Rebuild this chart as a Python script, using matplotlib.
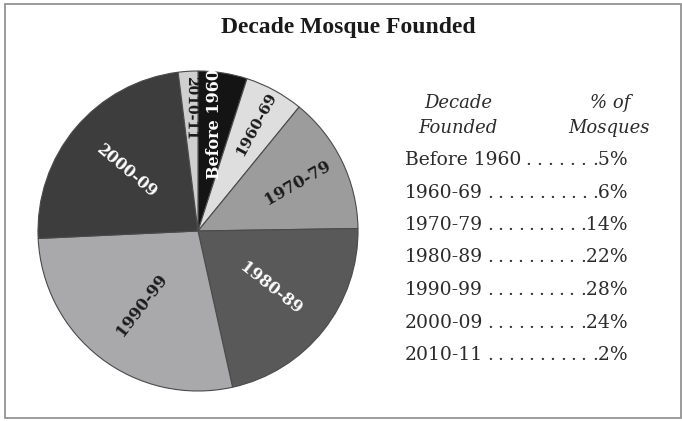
import matplotlib.pyplot as plt
from matplotlib.patches import Rectangle
import numpy as np

# Datos del grafico
decades = ['Before 1960', '1960-69', '1970-79', '1980-89', '1990-99', '2000-09', '2010-11']
percent = [5, 6, 14, 22, 28, 24, 2]
wedge_colors = ['#141414', '#dedede', '#9c9c9c', '#595959', '#a9a9ab', '#3d3d3d', '#cfcfcf']
label_colors = ['white', '#1a1a1a', '#1a1a1a', 'white', '#1a1a1a', 'white', '#1a1a1a']
label_radius = [0.68, 0.76, 0.69, 0.58, 0.58, 0.58, 0.77]
label_rot_adj = [9, 0, 4, 0, 0, 0, -4]
label_size = [11.5, 11, 11.5, 11.5, 11.5, 11.5, 10]

W, H = 682, 421
fig = plt.figure(figsize=(W / 100, H / 100), dpi=100)

# marco gris alrededor de la figura
fig.patches.append(Rectangle((5 / W, 3 / H), 676 / W, 414 / H, transform=fig.transFigure,
                             fill=False, edgecolor='#8a8a8a', linewidth=1.2))

fig.text(348 / W, 1 - 28 / H, 'Decade Mosque Founded', ha='center', va='center',
         fontsize=17, fontweight='bold', family='Liberation Serif', color='#1a1a1a')

# Pastel
cx, cy, r = 198, 231, 160
ax = fig.add_axes([(cx - r) / W, (H - cy - r) / H, 2 * r / W, 2 * r / H])
wedges, _ = ax.pie(percent, colors=wedge_colors, startangle=90, counterclock=False,
                   wedgeprops=dict(edgecolor='#4a4a4a', linewidth=0.8), radius=1.0)
ax.set_xlim(-1, 1)
ax.set_ylim(-1, 1)
ax.set_aspect('equal')
ax.axis('off')

for w, name, col, rr, adj, fs in zip(wedges, decades, label_colors, label_radius,
                                     label_rot_adj, label_size):
    ang = (w.theta1 + w.theta2) / 2
    ang = (ang + 180) % 360 - 180
    x = rr * np.cos(np.deg2rad(ang))
    y = rr * np.sin(np.deg2rad(ang))
    rot = ang
    if rot > 90:
        rot -= 180
    elif rot < -90:
        rot += 180
    ax.text(x, y, name, rotation=rot + adj, rotation_mode='anchor', ha='center', va='center',
            fontsize=fs, fontweight='bold', family='DejaVu Serif', color=col)

# Tabla a la derecha
txt_col = '#2b2b2b'
for s, xx, yy in [('Decade', 458, 103), ('Founded', 458, 128),
                  ('% of', 610, 103), ('Mosques', 609, 128)]:
    fig.text(xx / W, 1 - yy / H, s, ha='center', va='center', fontsize=13,
             style='italic', family='DejaVu Serif', color=txt_col)

renderer = fig.canvas.get_renderer()
x_left, x_right = 405, 628
pitch = 10.8
for i, (name, p) in enumerate(zip(decades, percent)):
    y = 1 - (160 + i * 32.5) / H
    lab = fig.text(x_left / W, y, name, ha='left', va='center', fontsize=13.5,
                   family='DejaVu Serif', color=txt_col)
    lab_end = lab.get_window_extent(renderer).x1
    val = fig.text(x_right / W, y, f'.{p}%', ha='right', va='center', fontsize=13.5,
                   family='DejaVu Serif', color=txt_col)
    val_start = val.get_window_extent(renderer).x0
    # puntos guia repartidos entre la etiqueta y el valor
    start, end = lab_end + 7, val_start + 2 - pitch
    n = int(round((end - start) / pitch)) + 1
    for xd in np.linspace(start, end, n):
        fig.text(xd / W, y, '.', ha='center', va='center', fontsize=13.5,
                 family='DejaVu Serif', color=txt_col)

fig.savefig('out.png', dpi=100)
